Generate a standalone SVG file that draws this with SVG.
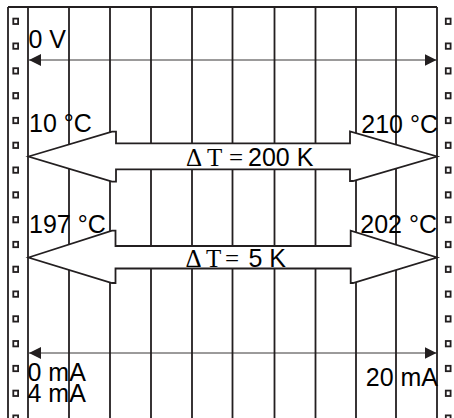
<svg xmlns="http://www.w3.org/2000/svg" width="454" height="418" viewBox="0 0 454 418">
<style>
.grid{stroke:#231f20;stroke-width:1.8;fill:none}
.hole{stroke:#231f20;stroke-width:1.8;fill:#fff}
.big{fill:#fff;stroke:#231f20;stroke-width:1.8;stroke-linejoin:miter}
.thin{stroke:#231f20;stroke-width:0.9;fill:none}
.lbl{font-family:"Liberation Sans",Arial,sans-serif;font-size:25px;fill:#000}
.ser{font-family:"Liberation Serif","Times New Roman",serif;font-size:25px;fill:#000}
</style>
<defs>
<marker id="ah" viewBox="0 0 12 12" refX="12" refY="6" markerWidth="12" markerHeight="12" markerUnits="userSpaceOnUse" orient="auto-start-reverse">
<path d="M0,0 L12,6 L0,12 Z" fill="#231f20"/>
</marker>
<rect id="hl" width="4.8" height="5.4" class="hole"/>
</defs>
<rect width="454" height="418" fill="#fff"/>
<g id="paper">
<line class="grid" x1="8" y1="7" x2="437" y2="7"/>
<line class="grid" x1="8" y1="7" x2="8" y2="418"/>
<line class="grid" x1="28" y1="7" x2="28" y2="418"/>
<line class="grid" x1="69" y1="7" x2="69" y2="418"/>
<line class="grid" x1="110" y1="7" x2="110" y2="418"/>
<line class="grid" x1="151" y1="7" x2="151" y2="418"/>
<line class="grid" x1="192" y1="7" x2="192" y2="418"/>
<line class="grid" x1="232.5" y1="7" x2="232.5" y2="418"/>
<line class="grid" x1="274.5" y1="7" x2="274.5" y2="418"/>
<line class="grid" x1="315.5" y1="7" x2="315.5" y2="418"/>
<line class="grid" x1="356" y1="7" x2="356" y2="418"/>
<line class="grid" x1="396" y1="7" x2="396" y2="418"/>
<line class="grid" x1="437" y1="7" x2="437" y2="418"/>
</g>
<g id="holes-left">
<use href="#hl" x="13.3" y="18.6"/><use href="#hl" x="13.3" y="43.4"/><use href="#hl" x="13.3" y="68.2"/><use href="#hl" x="13.3" y="93"/><use href="#hl" x="13.3" y="117.8"/><use href="#hl" x="13.3" y="142.6"/><use href="#hl" x="13.3" y="167.4"/><use href="#hl" x="13.3" y="192.2"/><use href="#hl" x="13.3" y="217"/><use href="#hl" x="13.3" y="241.8"/><use href="#hl" x="13.3" y="266.6"/><use href="#hl" x="13.3" y="291.4"/><use href="#hl" x="13.3" y="316.2"/><use href="#hl" x="13.3" y="341"/><use href="#hl" x="13.3" y="365.8"/><use href="#hl" x="13.3" y="390.6"/><use href="#hl" x="13.3" y="415.4"/>
</g>
<g id="holes-right">
<use href="#hl" x="445.8" y="18.6"/><use href="#hl" x="445.8" y="43.4"/><use href="#hl" x="445.8" y="68.2"/><use href="#hl" x="445.8" y="93"/><use href="#hl" x="445.8" y="117.8"/><use href="#hl" x="445.8" y="142.6"/><use href="#hl" x="445.8" y="167.4"/><use href="#hl" x="445.8" y="192.2"/><use href="#hl" x="445.8" y="217"/><use href="#hl" x="445.8" y="241.8"/><use href="#hl" x="445.8" y="266.6"/><use href="#hl" x="445.8" y="291.4"/><use href="#hl" x="445.8" y="316.2"/><use href="#hl" x="445.8" y="341"/><use href="#hl" x="445.8" y="365.8"/><use href="#hl" x="445.8" y="390.6"/><use href="#hl" x="445.8" y="415.4"/>
</g>
<g id="connectors">
<line class="thin" x1="29" y1="60" x2="436.5" y2="60" marker-start="url(#ah)" marker-end="url(#ah)"/>
<line class="thin" x1="29" y1="353" x2="436.5" y2="353" marker-start="url(#ah)" marker-end="url(#ah)"/>
</g>
<g id="arrow-200K">
<polygon class="big" points="28.5,156.5 112,131.7 116,131.7 116,143.3 350,143.3 350,131.5 437,156.5 353,181 350,181 350,169.3 116,169.3 116,181.7 112,181.7"/>
<text class="ser" x="186" y="166">Δ</text>
<text class="ser" x="207" y="166">T</text>
<text class="ser" x="229" y="166">=</text>
<text class="lbl" x="248" y="166">200 K</text>
</g>
<g id="arrow-5K">
<polygon class="big" points="28.5,257.5 112,230.7 115.5,230.7 115.5,246 350.7,246 350.7,230.7 437,257.5 353,283 350.7,283 350.7,268.5 115.5,268.5 115.5,283 112,283"/>
<text class="ser" x="185.5" y="267">Δ</text>
<text class="ser" x="206" y="267">T</text>
<text class="ser" x="225" y="267">=</text>
<text class="lbl" x="248.5" y="267">5 K</text>
</g>
<g id="labels">
<text class="lbl" x="28.5" y="48">0 V</text>
<text class="lbl" x="29" y="132">10 °C</text>
<text class="lbl" x="438" y="133" text-anchor="end">210 °C</text>
<text class="lbl" x="29" y="233">197 °C</text>
<text class="lbl" x="437" y="233" text-anchor="end">202 °C</text>
<text class="lbl" x="27.5" y="381">0 mA</text>
<text class="lbl" x="27.5" y="401.5">4 mA</text>
<text class="lbl" x="438" y="386" text-anchor="end">20 mA</text>
</g>
</svg>
